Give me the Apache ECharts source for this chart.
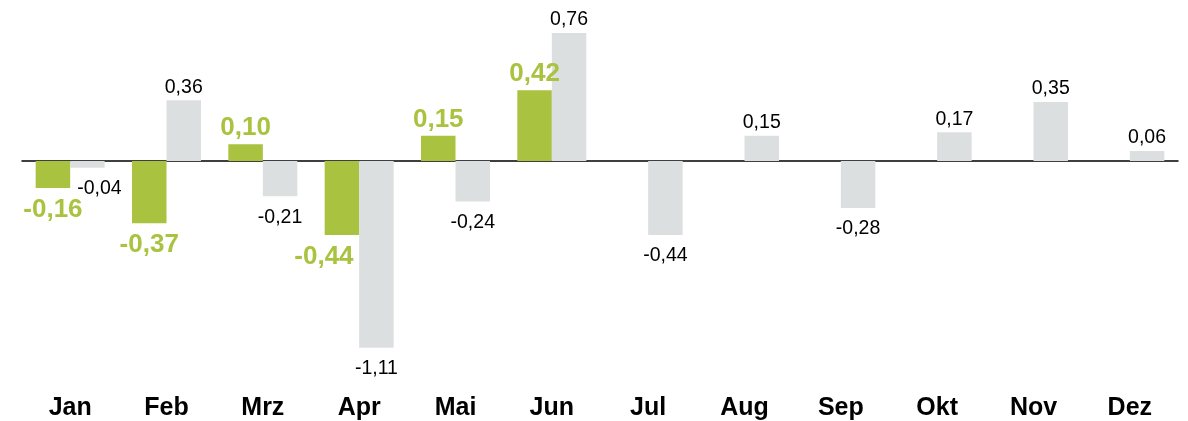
<!DOCTYPE html>
<html>
<head>
<meta charset="utf-8">
<script src="https://cdn.jsdelivr.net/npm/echarts@6/dist/echarts.min.js"></script>
<style>
  html, body { margin: 0; padding: 0; background: #fff; }
  #chart { width: 1188px; height: 421px; }
</style>
</head>
<body>
<div id="chart"></div>
<script>
// Monate
const months = ['Jan', 'Feb', 'Mrz', 'Apr', 'Mai', 'Jun', 'Jul', 'Aug', 'Sep', 'Okt', 'Nov', 'Dez'];
// grüne Reihe (nur bis Juni)
const greenValues = [-0.16, -0.37, 0.10, -0.44, 0.15, 0.42, null, null, null, null, null, null];
// graue Reihe
const grayValues = [-0.04, 0.36, -0.21, -1.11, -0.24, 0.76, -0.44, 0.15, -0.28, 0.17, 0.35, 0.06];

const fmt = (p) => p.value.toFixed(2).replace('.', ',');

const chart = echarts.init(document.getElementById('chart'));

// Label oben bei positiven, unten bei negativen Werten
const toData = (arr, topDist, bottomDist, extra) => arr.map((v, i) => {
    if (v === null) return null;
    const item = {
        value: v,
        label: { position: v < 0 ? 'bottom' : 'top', distance: v < 0 ? bottomDist : topDist }
    };
    if (extra && extra[i]) Object.assign(item.label, extra[i]);
    return item;
});

chart.setOption({
    animation: false,
    grid: { left: 22, right: 10, top: 26.3, bottom: 58 },
    xAxis: [
        {
            type: 'category',
            data: months,
            axisLine: { onZero: true, lineStyle: { color: '#000', width: 1.5 } },
            axisTick: { show: false },
            axisLabel: { show: false }
        },
        {
            type: 'category',
            data: months,
            position: 'bottom',
            axisLine: { show: false },
            axisTick: { show: false },
            axisLabel: {
                margin: 33,
                color: '#000',
                fontFamily: 'Liberation Sans',
                fontWeight: 'bold',
                fontSize: 25
            }
        }
    ],
    yAxis: {
        type: 'value',
        min: -1.2,
        max: 0.8,
        show: false,
        splitLine: { show: false }
    },
    series: [
        {
            type: 'bar',
            data: toData(greenValues, 3, 9, { 3: { offset: [-18, 0] } }),
            barWidth: 34.5,
            barGap: '0%',
            itemStyle: { color: '#a9c23f' },
            label: {
                show: true,
                formatter: fmt,
                color: '#a9c23f',
                fontFamily: 'Liberation Sans',
                fontWeight: 'bold',
                fontSize: 26
            }
        },
        {
            type: 'bar',
            data: toData(grayValues, 3, 11, { 0: { offset: [12, 0] } }),
            barWidth: 34.5,
            barGap: '0%',
            itemStyle: { color: '#dcdfe0' },
            label: {
                show: true,
                formatter: fmt,
                color: '#000',
                fontFamily: 'Liberation Sans',
                fontSize: 19.5
            }
        }
    ]
});
</script>
</body>
</html>
